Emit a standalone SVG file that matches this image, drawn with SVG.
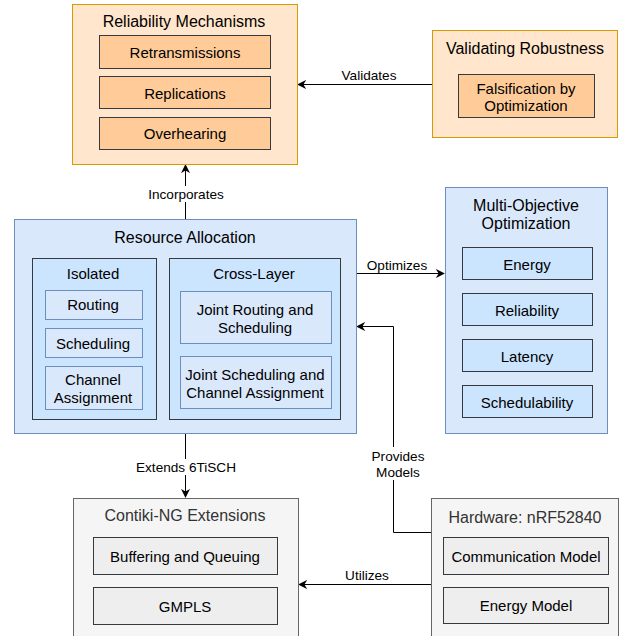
<svg xmlns="http://www.w3.org/2000/svg" width="626" height="636" viewBox="0 0 626 636">
<defs>
<marker id="arr" viewBox="0 0 10 10" refX="9" refY="5" markerWidth="9" markerHeight="9" markerUnits="userSpaceOnUse" orient="auto">
<path d="M0,0 L10,5 L0,10 L3,5 Z" fill="#000"/>
</marker>
<style>
text{font-family:"Liberation Sans",Arial,Helvetica,sans-serif;text-anchor:middle;dominant-baseline:central;fill:#000}
.t{font-size:16px}
.s{font-size:15px}
.l{font-size:13.6px}
.g{fill:#333333}
.or{fill:#ffe6cc;stroke:#d79b00;stroke-width:1}
.oi{fill:#ffcc99;stroke:#36393d;stroke-width:1}
.bo{fill:#dae8fc;stroke:#6c8ebf;stroke-width:1}
.bi{fill:#cce5ff;stroke:#36393d;stroke-width:1}
.go{fill:#f5f5f5;stroke:#666666;stroke-width:1}
.gi{fill:#eeeeee;stroke:#36393d;stroke-width:1}
.c{fill:none;stroke:#000;stroke-width:1}
.lb{fill:#fff}
</style>
</defs>
<rect width="626" height="636" fill="#fff"/>

<g id="connectors">
<path class="c" d="M432.5,84.5 H298" marker-end="url(#arr)"/>
<path class="c" d="M185.5,219 V165" marker-end="url(#arr)"/>
<path class="c" d="M356,273.5 H444" marker-end="url(#arr)"/>
<path class="c" d="M431,532.5 H393.5 V326.5 H357" marker-end="url(#arr)"/>
<path class="c" d="M185.5,433 V497" marker-end="url(#arr)"/>
<path class="c" d="M431,584.5 H299" marker-end="url(#arr)"/>
<rect class="lb" x="145" y="186" width="82" height="16"/>
<rect class="lb" x="133" y="459" width="106" height="16"/>
<rect class="lb" x="369" y="447" width="50" height="33"/>
<text class="l" x="369" y="75">Validates</text>
<text class="l" x="186" y="194">Incorporates</text>
<text class="l" x="397" y="265">Optimizes</text>
<text class="l" x="186" y="467">Extends 6TiSCH</text>
<text class="l" x="398" y="456">Provides</text>
<text class="l" x="398" y="472">Models</text>
<text class="l" x="367" y="575">Utilizes</text>
</g>

<g id="reliability">
<rect class="or" x="72.5" y="4.5" width="225" height="160"/>
<text class="t" x="184" y="21">Reliability Mechanisms</text>
<rect class="oi" x="99.5" y="35.5" width="171" height="33"/>
<text class="s" x="185" y="52">Retransmissions</text>
<rect class="oi" x="99.5" y="76.5" width="171" height="32"/>
<text class="s" x="185" y="93">Replications</text>
<rect class="oi" x="99.5" y="117.5" width="171" height="32"/>
<text class="s" x="185" y="133">Overhearing</text>
</g>

<g id="validating">
<rect class="or" x="432.5" y="30.5" width="185" height="107"/>
<text class="t" x="525" y="48">Validating Robustness</text>
<rect class="oi" x="458.5" y="74.5" width="136" height="43"/>
<text class="s" x="526" y="88">Falsification by</text>
<text class="s" x="526" y="105">Optimization</text>
</g>

<g id="resource">
<rect class="bo" x="14.5" y="219.5" width="342" height="214"/>
<text class="t" x="185" y="237">Resource Allocation</text>
<g id="isolated">
<rect class="bi" x="32.5" y="258.5" width="124" height="161"/>
<text class="s" x="93" y="273">Isolated</text>
<rect class="bo" x="45.5" y="290.5" width="97" height="29"/>
<text class="s" x="93" y="304">Routing</text>
<rect class="bo" x="45.5" y="328.5" width="97" height="29"/>
<text class="s" x="93" y="343">Scheduling</text>
<rect class="bo" x="45.5" y="366.5" width="97" height="43"/>
<text class="s" x="93" y="379">Channel</text>
<text class="s" x="93" y="397">Assignment</text>
</g>
<g id="crosslayer">
<rect class="bi" x="169.5" y="258.5" width="171" height="161"/>
<text class="s" x="254" y="273">Cross-Layer</text>
<rect class="bo" x="180.5" y="291.5" width="151" height="52"/>
<text class="s" x="255" y="309">Joint Routing and</text>
<text class="s" x="255" y="327">Scheduling</text>
<rect class="bo" x="180.5" y="356.5" width="151" height="52"/>
<text class="s" x="255" y="374">Joint Scheduling and</text>
<text class="s" x="255" y="392">Channel Assignment</text>
</g>
</g>

<g id="moo">
<rect class="bo" x="445.5" y="187.5" width="162" height="246"/>
<text class="t" x="526" y="205">Multi-Objective</text>
<text class="t" x="526" y="223">Optimization</text>
<rect class="bi" x="462.5" y="247.5" width="130" height="32"/>
<text class="s" x="527" y="264">Energy</text>
<rect class="bi" x="462.5" y="293.5" width="130" height="32"/>
<text class="s" x="527" y="310">Reliability</text>
<rect class="bi" x="462.5" y="339.5" width="130" height="32"/>
<text class="s" x="527" y="356">Latency</text>
<rect class="bi" x="462.5" y="385.5" width="130" height="32"/>
<text class="s" x="527" y="402">Schedulability</text>
</g>

<g id="contiki">
<rect class="go" x="73.5" y="498.5" width="225" height="160"/>
<text class="t g" x="185" y="515">Contiki-NG Extensions</text>
<rect class="gi" x="93.5" y="537.5" width="184" height="37"/>
<text class="s" x="185" y="556">Buffering and Queuing</text>
<rect class="gi" x="93.5" y="587.5" width="184" height="37"/>
<text class="s" x="185" y="606">GMPLS</text>
</g>

<g id="hardware">
<rect class="go" x="431.5" y="498.5" width="187" height="160"/>
<text class="t g" x="525" y="517">Hardware: nRF52840</text>
<rect class="gi" x="443.5" y="537.5" width="165" height="37"/>
<text class="s" x="526" y="556">Communication Model</text>
<rect class="gi" x="443.5" y="587.5" width="165" height="36"/>
<text class="s" x="526" y="605">Energy Model</text>
</g>
</svg>
